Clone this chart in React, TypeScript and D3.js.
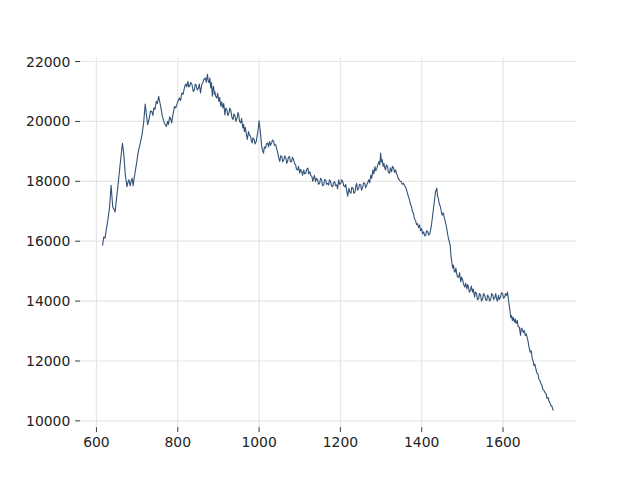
import * as d3 from "d3";

const WIDTH = 640;
const HEIGHT = 480;
const MARGIN = { top: 57.6, right: 64, bottom: 52.8, left: 80 };

// [x, value] pairs
const series: [number, number][] = [
  [615, 15850], [618, 16140], [621, 16100], [624, 16370], [628, 16700], [632, 17100],
  [636, 17870], [640, 17150], [646, 16980], [649, 17370], [654, 17990], [659, 18660],
  [664, 19270], [667, 18940], [671, 18210], [675, 17820], [678, 18000], [680, 18050],
  [683, 17850], [685, 17990], [688, 18100], [690, 17850], [694, 18210], [698, 18550],
  [703, 18990], [708, 19280], [712, 19550], [716, 19950], [720, 20580], [723, 20220],
  [726, 19890], [730, 20110], [733, 20350], [736, 20330], [739, 20200], [741, 20450],
  [744, 20400], [747, 20670], [750, 20600], [753, 20840], [758, 20500], [762, 20170],
  [767, 19950], [772, 19830], [775, 20000], [777, 19900], [780, 20150], [782, 20110],
  [785, 19950], [788, 20220], [792, 20500], [795, 20450], [799, 20620], [804, 20780],
  [807, 20700], [810, 20950], [813, 20900], [817, 21170], [820, 21250], [822, 21150],
  [825, 21340], [827, 21150], [829, 21170], [832, 21300], [835, 21230], [838, 21000],
  [841, 21060], [843, 21250], [845, 21210], [848, 21050], [851, 21120], [853, 21250],
  [856, 20950], [859, 21230], [862, 21300], [864, 21400], [868, 21450], [870, 21300],
  [873, 21570], [875, 21350], [877, 21290], [879, 21450], [881, 21120], [883, 21300],
  [885, 20840], [886, 21050], [888, 21170], [890, 20900], [891, 21000], [893, 20850],
  [896, 20780], [898, 20950], [901, 20670], [903, 20800], [906, 20500], [908, 20650],
  [911, 20450], [913, 20600], [916, 20220], [918, 20450], [921, 20390], [923, 20200],
  [926, 20280], [928, 20450], [931, 20330], [933, 20150], [936, 20060], [938, 20250],
  [941, 20170], [943, 20000], [946, 20110], [948, 20300], [950, 20220], [952, 20000],
  [955, 19950], [957, 20100], [960, 19780], [962, 19900], [964, 19660], [966, 19800],
  [969, 19550], [971, 19400], [974, 19660], [976, 19550], [979, 19500], [981, 19350],
  [983, 19280], [985, 19450], [988, 19390], [990, 19250], [993, 19330], [995, 19500],
  [997, 19660], [1000, 20020], [1003, 19660], [1006, 19220], [1008, 19050], [1011, 18940],
  [1013, 19150], [1016, 19110], [1018, 19250], [1021, 19280], [1023, 19150], [1026, 19330],
  [1028, 19200], [1031, 19280], [1033, 19380], [1036, 19330], [1038, 19200], [1041, 19220],
  [1043, 19100], [1046, 18940], [1048, 18800], [1051, 18660], [1053, 18850], [1056, 18830],
  [1058, 18650], [1061, 18720], [1063, 18850], [1066, 18770], [1068, 18600], [1070, 18660],
  [1072, 18800], [1075, 18830], [1077, 18650], [1080, 18660], [1082, 18800], [1085, 18720],
  [1087, 18600], [1090, 18550], [1092, 18400], [1095, 18380], [1097, 18500], [1100, 18270],
  [1102, 18400], [1105, 18320], [1107, 18200], [1110, 18380], [1112, 18250], [1115, 18270],
  [1117, 18400], [1120, 18440], [1122, 18250], [1125, 18320], [1127, 18200], [1130, 18160],
  [1132, 18000], [1134, 18100], [1136, 18200], [1139, 17990], [1141, 18100], [1144, 18050],
  [1146, 17900], [1149, 17930], [1151, 18100], [1154, 18050], [1156, 17850], [1159, 17880],
  [1161, 18050], [1164, 18050], [1166, 17900], [1169, 17930], [1171, 17880], [1173, 18050],
  [1176, 17990], [1178, 17850], [1181, 17820], [1183, 17950], [1186, 17990], [1188, 17850],
  [1191, 17880], [1193, 17750], [1196, 18050], [1198, 17900], [1201, 17930], [1203, 18050],
  [1206, 17990], [1208, 17850], [1211, 17820], [1213, 17900], [1216, 17650], [1218, 17500],
  [1221, 17770], [1223, 17650], [1226, 17600], [1228, 17800], [1231, 17770], [1233, 17600],
  [1236, 17650], [1238, 17850], [1240, 17930], [1242, 17700], [1245, 17770], [1247, 17900],
  [1250, 17880], [1252, 17700], [1255, 17820], [1257, 17950], [1260, 17930], [1262, 17780],
  [1265, 17880], [1267, 17950], [1270, 18050], [1272, 17950], [1275, 18210], [1277, 18100],
  [1280, 18380], [1282, 18250], [1285, 18490], [1287, 18350], [1290, 18440], [1292, 18550],
  [1295, 18660], [1297, 18550], [1299, 18940], [1301, 18650], [1303, 18720], [1305, 18500],
  [1307, 18600], [1309, 18450], [1311, 18380], [1313, 18550], [1316, 18490], [1318, 18300],
  [1321, 18270], [1323, 18450], [1326, 18320], [1328, 18500], [1331, 18440], [1333, 18300],
  [1336, 18380], [1338, 18250], [1340, 18210], [1342, 18100], [1345, 18050], [1347, 18000],
  [1350, 17990], [1352, 17900], [1355, 17930], [1358, 17850], [1360, 17820], [1363, 17700],
  [1365, 17600], [1370, 17370], [1372, 17250], [1375, 17150], [1377, 17000], [1380, 16930],
  [1382, 16750], [1385, 16700], [1387, 16550], [1390, 16590], [1392, 16450], [1395, 16540],
  [1397, 16350], [1400, 16420], [1402, 16250], [1405, 16310], [1407, 16180], [1410, 16200],
  [1412, 16350], [1415, 16310], [1417, 16200], [1420, 16260], [1424, 16540], [1429, 17100],
  [1434, 17650], [1437, 17770], [1439, 17500], [1441, 17430], [1443, 17250], [1446, 17150],
  [1448, 17000], [1450, 16870], [1453, 16950], [1455, 16820], [1460, 16540], [1465, 16140],
  [1470, 15870], [1472, 15500], [1474, 15310], [1476, 15100], [1478, 15200], [1480, 15000],
  [1482, 14970], [1484, 15100], [1486, 14920], [1488, 14800], [1491, 14800], [1493, 14950],
  [1496, 14640], [1498, 14800], [1501, 14690], [1503, 14550], [1506, 14470], [1508, 14600],
  [1511, 14410], [1513, 14550], [1515, 14470], [1517, 14300], [1520, 14360], [1522, 14500],
  [1525, 14300], [1527, 14400], [1530, 14130], [1532, 14300], [1535, 14250], [1537, 14050],
  [1540, 14080], [1542, 14250], [1545, 14190], [1547, 14000], [1550, 14080], [1552, 14250],
  [1555, 14190], [1557, 14050], [1560, 14020], [1562, 14200], [1565, 14130], [1567, 14000],
  [1570, 14080], [1572, 14250], [1575, 14190], [1577, 14050], [1580, 14130], [1582, 14250],
  [1584, 14080], [1586, 14000], [1589, 14190], [1591, 14050], [1594, 14130], [1596, 14280],
  [1599, 14250], [1601, 14100], [1604, 14130], [1606, 14250], [1609, 14190], [1611, 14300],
  [1614, 13970], [1617, 13690], [1619, 13450], [1621, 13520], [1623, 13350], [1625, 13460],
  [1628, 13300], [1630, 13410], [1632, 13250], [1635, 13350], [1637, 13150], [1640, 13130],
  [1643, 12850], [1645, 13100], [1647, 13070], [1650, 12950], [1652, 13020], [1655, 12850],
  [1657, 12910], [1660, 12750], [1662, 12620], [1664, 12450], [1667, 12290], [1669, 12350],
  [1672, 12070], [1674, 12000], [1676, 11840], [1678, 11900], [1681, 11730], [1683, 11600],
  [1686, 11570], [1688, 11400], [1691, 11340], [1693, 11250], [1696, 11170], [1698, 11050],
  [1701, 11010], [1703, 10950], [1706, 10900], [1708, 10750], [1711, 10780], [1713, 10650],
  [1715, 10610], [1718, 10500], [1720, 10500], [1722, 10400], [1724, 10350],
];

const xTicks = [600, 800, 1000, 1200, 1400, 1600];
const yTicks = [10000, 12000, 14000, 16000, 18000, 20000, 22000];

// matplotlib-style 5% margins around the data
const pad = ([lo, hi]: [number, number]): [number, number] => {
  const m = (hi - lo) * 0.05;
  return [lo - m, hi + m];
};

export default function App() {
  const xScale = d3
    .scaleLinear()
    .domain(pad(d3.extent(series, (d) => d[0]) as [number, number]))
    .range([MARGIN.left, WIDTH - MARGIN.right]);

  const yScale = d3
    .scaleLinear()
    .domain(pad(d3.extent(series, (d) => d[1]) as [number, number]))
    .range([HEIGHT - MARGIN.bottom, MARGIN.top]);

  const line = d3
    .line<[number, number]>()
    .x((d) => xScale(d[0]))
    .y((d) => yScale(d[1]));

  const left = MARGIN.left;
  const right = WIDTH - MARGIN.right;
  const top = MARGIN.top;
  const bottom = HEIGHT - MARGIN.bottom;
  const font = { fontFamily: "DejaVu Sans", fontSize: 13.9 };

  return (
    <svg
      width={WIDTH}
      height={HEIGHT}
      style={{ position: "absolute", left: 0, top: 0, background: "white" }}
    >
      {/* grid */}
      {xTicks.map((t) => (
        <line
          key={"gx" + t}
          x1={xScale(t)}
          x2={xScale(t)}
          y1={top}
          y2={bottom}
          stroke="#e5e5e5"
          strokeWidth={1.2}
        />
      ))}
      {yTicks.map((t) => (
        <line
          key={"gy" + t}
          x1={left}
          x2={right}
          y1={yScale(t)}
          y2={yScale(t)}
          stroke="#e5e5e5"
          strokeWidth={1.2}
        />
      ))}

      {/* series */}
      <path
        d={line(series) ?? ""}
        fill="none"
        stroke="#335278"
        strokeWidth={1.1}
        strokeLinejoin="round"
      />

      {/* x axis ticks */}
      {xTicks.map((t) => (
        <g key={"tx" + t}>
          <line
            x1={xScale(t)}
            x2={xScale(t)}
            y1={bottom}
            y2={bottom + 4.9}
            stroke="#222"
            strokeWidth={0.9}
          />
          <text
            x={xScale(t)}
            y={bottom + 9.7}
            dy="0.76em"
            textAnchor="middle"
            fill="#222"
            {...font}
          >
            {t}
          </text>
        </g>
      ))}

      {/* y axis ticks */}
      {yTicks.map((t) => (
        <g key={"ty" + t}>
          <line
            x1={left - 4.9}
            x2={left}
            y1={yScale(t)}
            y2={yScale(t)}
            stroke="#222"
            strokeWidth={0.9}
          />
          <text
            x={left - 9.7}
            y={yScale(t)}
            dy="0.36em"
            textAnchor="end"
            fill="#222"
            {...font}
          >
            {t}
          </text>
        </g>
      ))}
    </svg>
  );
}
